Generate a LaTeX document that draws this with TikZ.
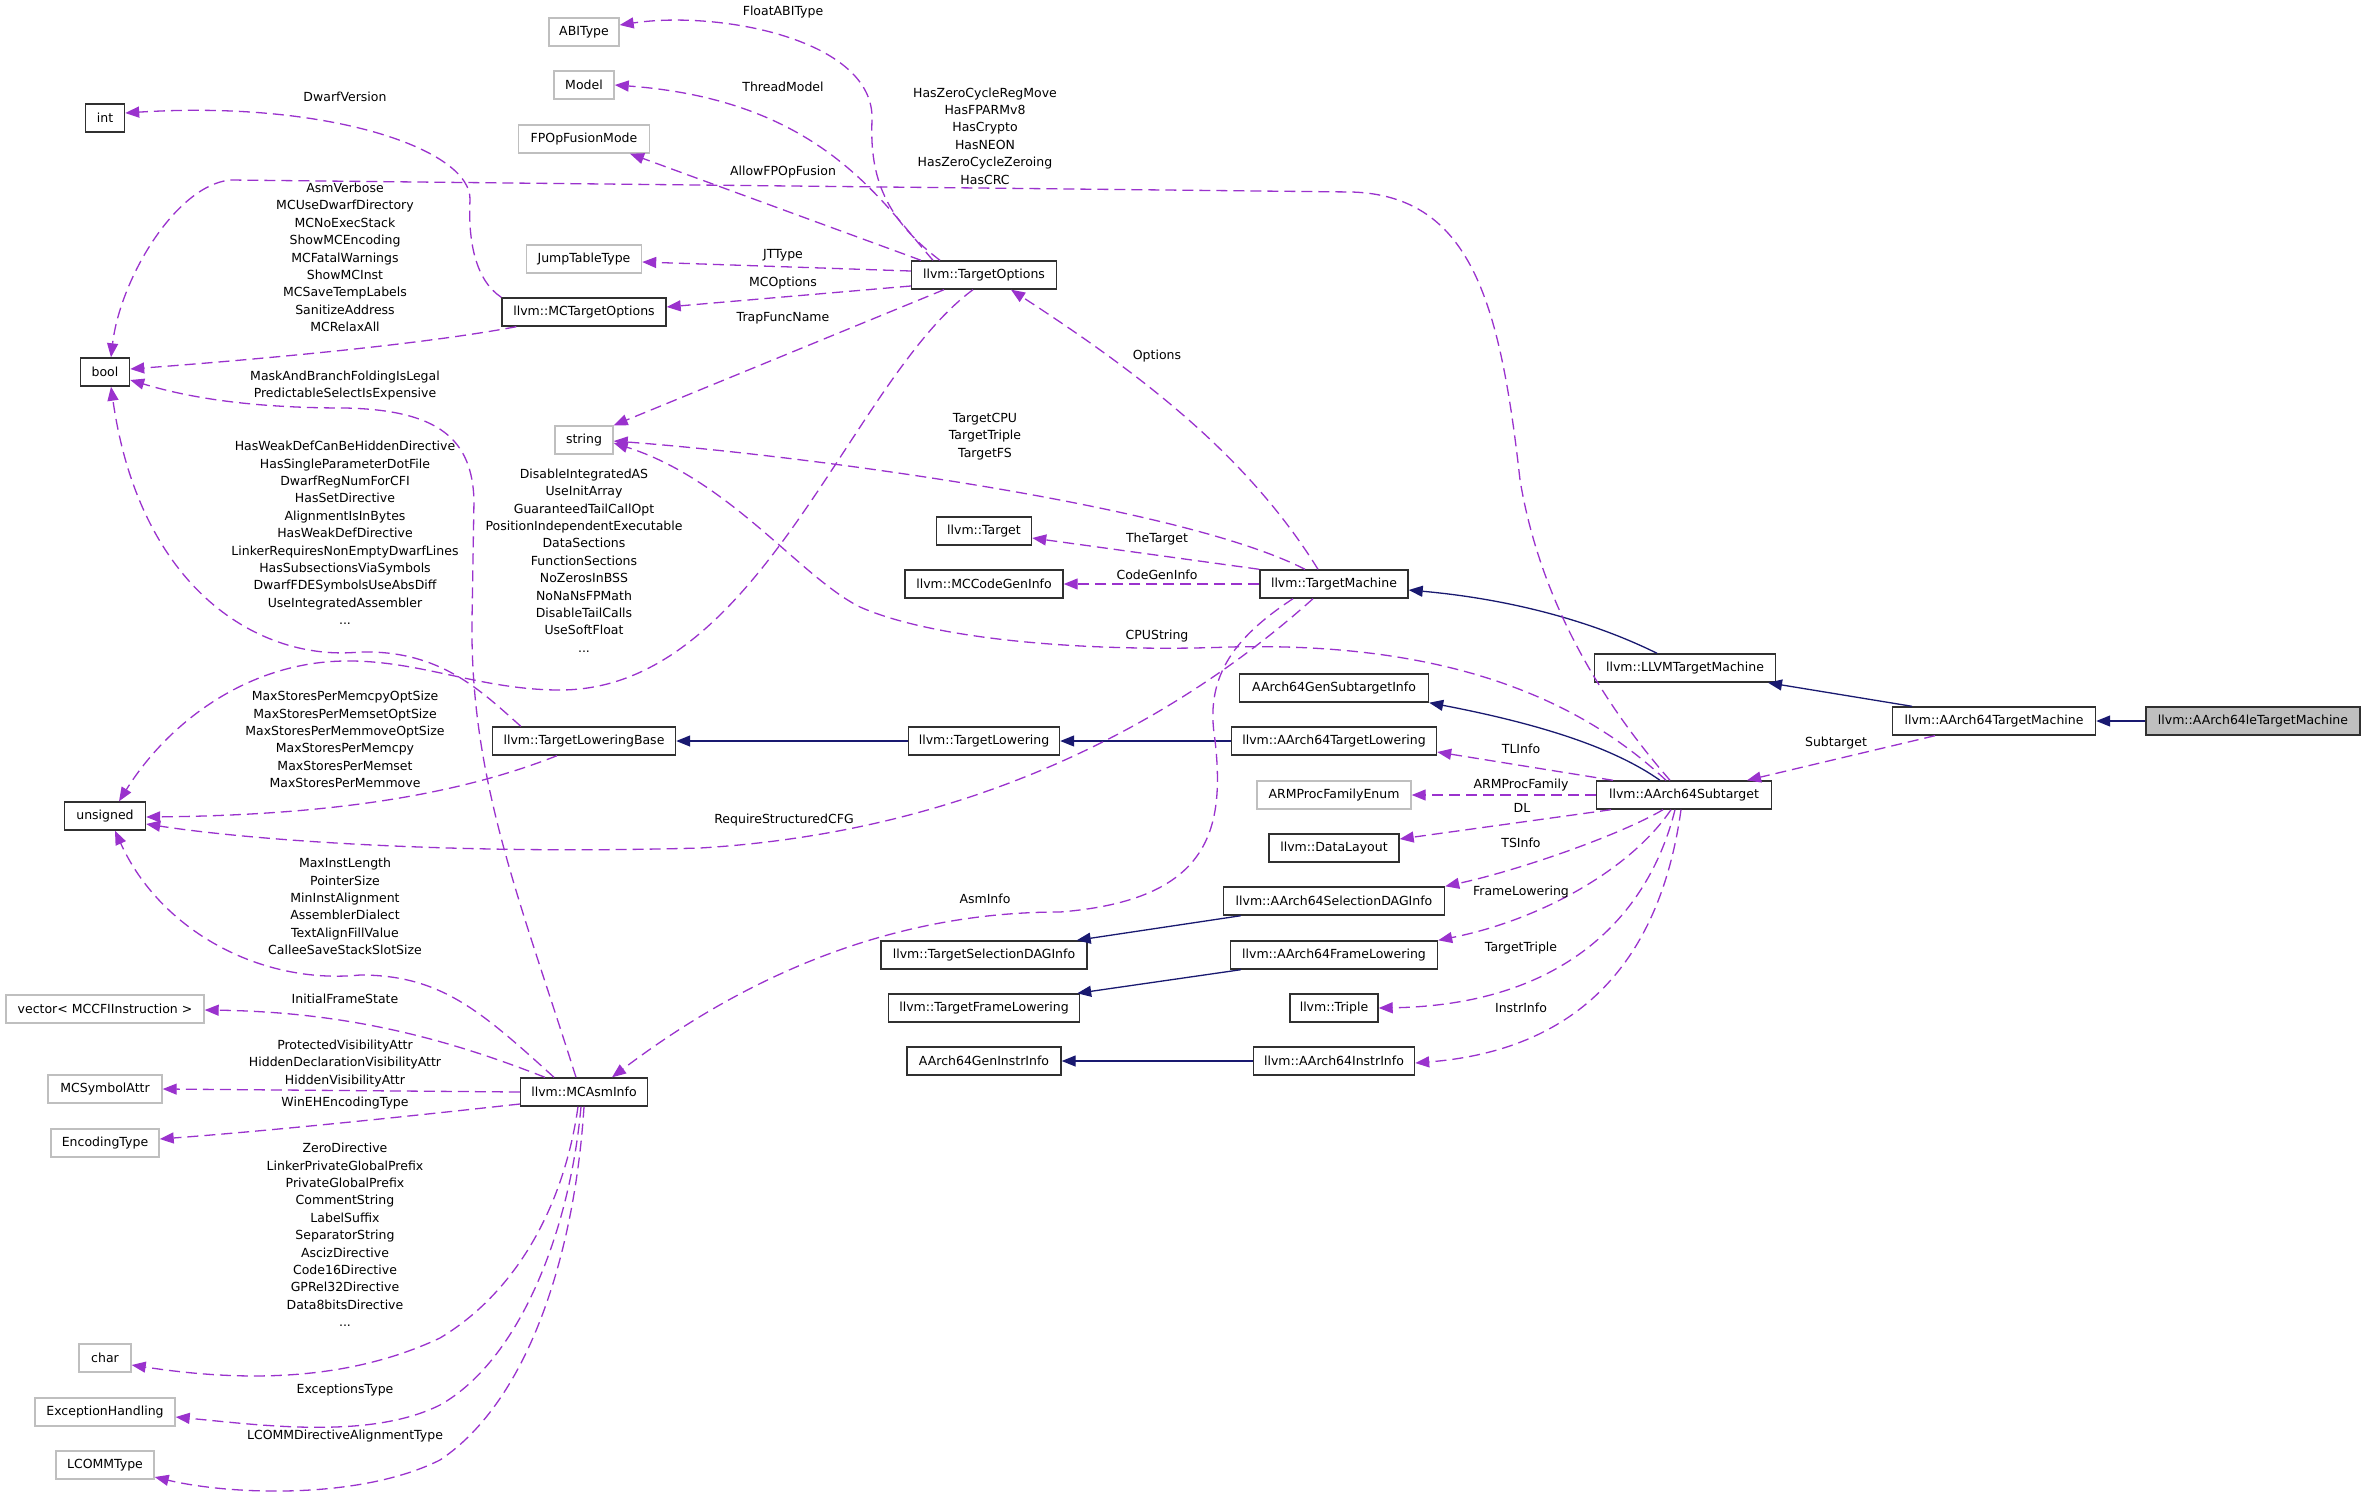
\documentclass[tikz,border=0pt]{standalone}
\usepackage{fontspec}
\setmainfont{DejaVu Sans}
\usetikzlibrary{arrows.meta}
\definecolor{memb}{HTML}{9A32CD}
\definecolor{inh}{HTML}{191970}
\definecolor{greybox}{HTML}{BFBFBF}
\definecolor{boxk}{HTML}{303030}
\newcommand{\dxfont}{\fontsize{12.5pt}{17.4pt}\selectfont}
\begin{document}
\begin{tikzpicture}[x=1pt,y=-1pt,
  cls/.style={draw=boxk, line width=1.4pt, rectangle, minimum height=28pt, inner xsep=4pt, inner ysep=0pt, font=\dxfont, fill=white},
  ext/.style={cls, draw=greybox},
  cur/.style={cls, fill=greybox},
  lab/.style={font=\dxfont, align=center, inner sep=0pt},
  mem/.style={draw=memb, line width=1.3pt, dash pattern=on 11pt off 6pt, -{Triangle[length=14pt,width=11pt]}},
  inhr/.style={draw=inh, line width=1.3pt, -{Triangle[length=14pt,width=11pt]}}]
\useasboundingbox (0,0) rectangle (2365,1499);

% ---------------- nodes ----------------
\node[cur, minimum width=214pt] (aletm) at (2253,721) {llvm::AArch64leTargetMachine};
\node[cls, minimum width=203pt] (a64tm) at (1994,721) {llvm::AArch64TargetMachine};
\node[cls, minimum width=181pt] (llvmtm) at (1685,668) {llvm::LLVMTargetMachine};
\node[cls, minimum width=148pt] (tm) at (1334,584) {llvm::TargetMachine};
\node[cls, minimum width=175pt] (sub) at (1684,795) {llvm::AArch64Subtarget};
\node[cls, minimum width=189pt] (gensub) at (1334,688) {AArch64GenSubtargetInfo};
\node[cls, minimum width=205pt] (a64tl) at (1334,741) {llvm::AArch64TargetLowering};
\node[ext, minimum width=154pt] (armpf) at (1334,795) {ARMProcFamilyEnum};
\node[cls, minimum width=130pt] (dl) at (1334,848) {llvm::DataLayout};
\node[cls, minimum width=221pt] (a64sdag) at (1334,901) {llvm::AArch64SelectionDAGInfo};
\node[cls, minimum width=207pt] (a64fl) at (1334,955) {llvm::AArch64FrameLowering};
\node[cls, minimum width=88pt] (triple) at (1334,1008) {llvm::Triple};
\node[cls, minimum width=161pt] (a64ii) at (1334,1061) {llvm::AArch64InstrInfo};
\node[cls, minimum width=95pt] (target) at (984,531) {llvm::Target};
\node[cls, minimum width=158pt] (mccgi) at (984,584) {llvm::MCCodeGenInfo};
\node[cls, minimum width=151pt] (tl) at (984,741) {llvm::TargetLowering};
\node[cls, minimum width=206pt] (tsdag) at (984,955) {llvm::TargetSelectionDAGInfo};
\node[cls, minimum width=191pt] (tfl) at (984,1008) {llvm::TargetFrameLowering};
\node[cls, minimum width=154pt] (genii) at (984,1061) {AArch64GenInstrInfo};
\node[cls, minimum width=145pt] (topt) at (984,275) {llvm::TargetOptions};
\node[ext, minimum width=70pt] (abi) at (584,32) {ABIType};
\node[ext, minimum width=60pt] (model) at (584,85) {Model};
\node[ext, minimum width=131pt] (fpop) at (584,139) {FPOpFusionMode};
\node[ext, minimum width=115pt] (jtt) at (584,259) {JumpTableType};
\node[cls, minimum width=164pt] (mcto) at (584,312) {llvm::MCTargetOptions};
\node[ext, minimum width=58pt] (string) at (584,440) {string};
\node[cls, minimum width=183pt] (tlb) at (584,741) {llvm::TargetLoweringBase};
\node[cls, minimum width=127pt] (mcai) at (584,1092) {llvm::MCAsmInfo};
\node[cls, minimum width=39pt] (int) at (105,118) {int};
\node[cls, minimum width=49pt] (bool) at (105,372) {bool};
\node[cls, minimum width=81pt] (unsigned) at (105,816) {unsigned};
\node[ext, minimum width=198pt] (vector) at (105,1009) {vector< MCCFIInstruction >};
\node[ext, minimum width=114pt] (symattr) at (105,1089) {MCSymbolAttr};
\node[ext, minimum width=108pt] (enc) at (105,1143) {EncodingType};
\node[ext, minimum width=52pt] (char) at (105,1358) {char};
\node[ext, minimum width=140pt] (exc) at (105,1412) {ExceptionHandling};
\node[ext, minimum width=98pt] (lcomm) at (105,1465) {LCOMMType};

% ---------------- inheritance ----------------
\draw[inhr] (aletm.west) -- (a64tm.east);
\draw[inhr] ([xshift=-82pt]a64tm.north) -- ([xshift=83pt]llvmtm.south);
\draw[inhr] ([xshift=-28pt]llvmtm.north) .. controls (1600,625) and (1520,600) .. ([yshift=-6pt]tm.east);
\draw[inhr] ([xshift=-24pt]sub.north) .. controls (1610,745) and (1530,722) .. (gensub.south east);
\draw[inhr] (a64tl.west) -- (tl.east);
\draw[inhr] (tl.west) -- (tlb.east);
\draw[inhr] ([xshift=18pt]a64sdag.south west) -- ([xshift=-11pt]tsdag.north east);
\draw[inhr] ([xshift=11pt]a64fl.south west) -- ([xshift=-3pt]tfl.north east);
\draw[inhr] (a64ii.west) -- (genii.east);

% ---------------- members ----------------
\draw[mem] ([xshift=-59pt]a64tm.south) -- ([xshift=63pt]sub.north);
\draw[mem] ([xshift=-71pt]sub.north) -- ([yshift=-11pt]a64tl.east);
\draw[mem] (sub.west) -- (armpf.east);
\draw[mem] ([xshift=-73pt]sub.south) -- ([yshift=9pt]dl.east);
\draw[mem] ([xshift=-21pt]sub.south) .. controls (1620,835) and (1520,870) .. (a64sdag.north east);
\draw[mem] ([xshift=-13pt]sub.south) .. controls (1630,870) and (1540,920) .. (a64fl.north east);
\draw[mem] ([xshift=-9pt]sub.south) .. controls (1650,910) and (1570,1005) .. (triple.east);
\draw[mem] ([xshift=-3pt]sub.south) .. controls (1660,960) and (1580,1050) .. ([yshift=-2pt]a64ii.east);
\draw[mem] ([xshift=-18pt]sub.north) .. controls (1570,690) and (1430,642) .. (1230,647)
   .. controls (1100,652) and (940,642) .. (860,607) .. controls (800,577) and (730,480) .. ([yshift=-3pt]string.east);
\draw[mem] ([xshift=-14pt]sub.north) .. controls (1600,700) and (1540,600) .. (1520,480)
   .. controls (1500,300) and (1470,196) .. (1352,192) -- (230,180)
   .. controls (175,186) and (120,280) .. ([xshift=6pt]bool.north);

\draw[mem] ([xshift=-16pt]tm.north) .. controls (1250,460) and (1150,380) .. ([xshift=27pt]topt.south);
\draw[mem] ([xshift=-29pt]tm.north) .. controls (1180,505) and (800,455) .. ([yshift=-1pt]string.east);
\draw[mem] (tm.north west) -- ([yshift=-7pt]target.east);
\draw[mem] (tm.west) -- (mccgi.east);
\draw[mem] ([xshift=-41pt]tm.south) .. controls (1230,640) and (1205,680) .. (1215,740)
   .. controls (1225,830) and (1210,900) .. (1060,912) .. controls (930,912) and (780,950) .. ([xshift=28pt]mcai.north);
\draw[mem] ([xshift=-21pt]tm.south) .. controls (1200,700) and (1000,830) .. (700,848)
   .. controls (450,855) and (250,840) .. ([yshift=-8pt]unsigned.east);

\draw[mem] ([xshift=-44pt]topt.north) .. controls (880,215) and (870,170) .. (872,120)
   .. controls (875,40) and (720,10) .. ([yshift=7pt]abi.east);
\draw[mem] ([xshift=-51pt]topt.north) .. controls (880,200) and (820,100) .. (model.east);
\draw[mem] ([xshift=-63pt]topt.north) -- ([xshift=46pt]fpop.south);
\draw[mem] ([yshift=4pt]topt.west) -- ([yshift=-3pt]jtt.east);
\draw[mem] ([yshift=-11pt]topt.west) -- ([yshift=5pt]mcto.east);
\draw[mem] ([xshift=-40pt]topt.south) -- (string.north east);
\draw[mem] ([xshift=-11pt]topt.south) .. controls (850,380) and (760,690) .. (560,690)
   .. controls (480,690) and (420,660) .. (345,661) .. controls (250,662) and (170,720) .. ([xshift=14pt]unsigned.north);

\draw[mem] (mcto.north west) .. controls (475,280) and (468,240) .. (470,200)
   .. controls (472,150) and (330,100) .. ([yshift=5pt]int.east);
\draw[mem] ([xshift=15pt]mcto.south west) .. controls (420,345) and (250,360) .. ([yshift=3pt]bool.east);

\draw[mem] ([xshift=29pt]tlb.north west) .. controls (480,690) and (440,650) .. (360,652)
   .. controls (260,662) and (140,590) .. ([xshift=6pt]bool.south);
\draw[mem] ([xshift=-27pt]tlb.south) .. controls (470,790) and (350,815) .. ([yshift=-1pt]unsigned.east);

\draw[mem] ([xshift=-8pt]mcai.north) .. controls (520,900) and (470,780) .. (472,620) -- (474,500)
   .. controls (472,440) and (440,410) .. (345,408) .. controls (240,408) and (180,395) .. ([yshift=-8pt]bool.east);
\draw[mem] ([xshift=-30pt]mcai.north) .. controls (480,1010) and (440,975) .. (360,975)
   .. controls (260,985) and (160,930) .. ([xshift=10pt]unsigned.south);
\draw[mem] ([xshift=-39pt]mcai.north) .. controls (450,1040) and (350,1012) .. ([yshift=-1pt]vector.east);
\draw[mem] (mcai.west) -- (symattr.east);
\draw[mem] ([yshift=-12pt]mcai.west) .. controls (420,1115) and (280,1130) .. ([yshift=4pt]enc.east);
\draw[mem] ([xshift=-6pt]mcai.south) .. controls (565,1200) and (520,1290) .. (440,1338)
   .. controls (340,1385) and (230,1380) .. ([yshift=-7pt]char.east);
\draw[mem] ([xshift=-3pt]mcai.south) .. controls (570,1230) and (520,1360) .. (440,1405)
   .. controls (370,1440) and (260,1425) .. ([yshift=-5pt]exc.east);
\draw[mem] (mcai.south) .. controls (575,1250) and (530,1400) .. (440,1460)
   .. controls (360,1500) and (230,1495) .. ([yshift=-12pt]lcomm.east);

% ---------------- labels ----------------
\node[lab] (lSub) at (1836,743) {Subtarget};
\node[lab] (lTL) at (1521,749) {TLInfo};
\node[lab] (lARM) at (1521,785) {ARMProcFamily};
\node[lab] (lDL) at (1522,808) {DL};
\node[lab] (lTS) at (1521,843) {TSInfo};
\node[lab] (lFL) at (1521,892) {FrameLowering};
\node[lab] (lTT) at (1521,948) {TargetTriple};
\node[lab] (lII) at (1521,1008) {InstrInfo};
\node[lab] (lCPU) at (1157,636) {CPUString};
\node[lab] (lTheT) at (1157,539) {TheTarget};
\node[lab] (lCGI) at (1157,575) {CodeGenInfo};
\node[lab] (lOpt) at (1157,356) {Options};
\node[lab] (lTCPU) at (985,436.5) {TargetCPU\\TargetTriple\\TargetFS};
\node[lab] (lAsm) at (985,899) {AsmInfo};
\node[lab] (lRSC) at (784,820) {RequireStructuredCFG};
\node[lab] (lHZ) at (985,136) {HasZeroCycleRegMove\\HasFPARMv8\\HasCrypto\\HasNEON\\HasZeroCycleZeroing\\HasCRC};
\node[lab] (lFABI) at (783,12) {FloatABIType};
\node[lab] (lTM) at (783,87) {ThreadModel};
\node[lab] (lFP) at (783,172) {AllowFPOpFusion};
\node[lab] (lJT) at (783,255) {JTType};
\node[lab] (lMCO) at (783,283) {MCOptions};
\node[lab] (lTrap) at (783,318) {TrapFuncName};
\node[lab] (lDI) at (584,560.5) {DisableIntegratedAS\\UseInitArray\\GuaranteedTailCallOpt\\PositionIndependentExecutable\\DataSections\\FunctionSections\\NoZerosInBSS\\NoNaNsFPMath\\DisableTailCalls\\UseSoftFloat\\...};
\node[lab] (lDw) at (345,97) {DwarfVersion};
\node[lab] (lAV) at (345,257.5) {AsmVerbose\\MCUseDwarfDirectory\\MCNoExecStack\\ShowMCEncoding\\MCFatalWarnings\\ShowMCInst\\MCSaveTempLabels\\SanitizeAddress\\MCRelaxAll};
\node[lab] (lMB) at (345,385.5) {MaskAndBranchFoldingIsLegal\\PredictableSelectIsExpensive};
\node[lab] (lHW) at (345,533) {HasWeakDefCanBeHiddenDirective\\HasSingleParameterDotFile\\DwarfRegNumForCFI\\HasSetDirective\\AlignmentIsInBytes\\HasWeakDefDirective\\LinkerRequiresNonEmptyDwarfLines\\HasSubsectionsViaSymbols\\DwarfFDESymbolsUseAbsDiff\\UseIntegratedAssembler\\...};
\node[lab] (lMS) at (345,739.5) {MaxStoresPerMemcpyOptSize\\MaxStoresPerMemsetOptSize\\MaxStoresPerMemmoveOptSize\\MaxStoresPerMemcpy\\MaxStoresPerMemset\\MaxStoresPerMemmove};
\node[lab] (lMI) at (345,906.5) {MaxInstLength\\PointerSize\\MinInstAlignment\\AssemblerDialect\\TextAlignFillValue\\CalleeSaveStackSlotSize};
\node[lab] (lIFS) at (345,999) {InitialFrameState};
\node[lab] (lPV) at (345,1063.5) {ProtectedVisibilityAttr\\HiddenDeclarationVisibilityAttr\\HiddenVisibilityAttr};
\node[lab] (lWin) at (345,1103) {WinEHEncodingType};
\node[lab] (lZD) at (345,1235) {ZeroDirective\\LinkerPrivateGlobalPrefix\\PrivateGlobalPrefix\\CommentString\\LabelSuffix\\SeparatorString\\AscizDirective\\Code16Directive\\GPRel32Directive\\Data8bitsDirective\\...};
\node[lab] (lET) at (345,1390) {ExceptionsType};
\node[lab] (lLC) at (345,1436) {LCOMMDirectiveAlignmentType};
\end{tikzpicture}
\end{document}
